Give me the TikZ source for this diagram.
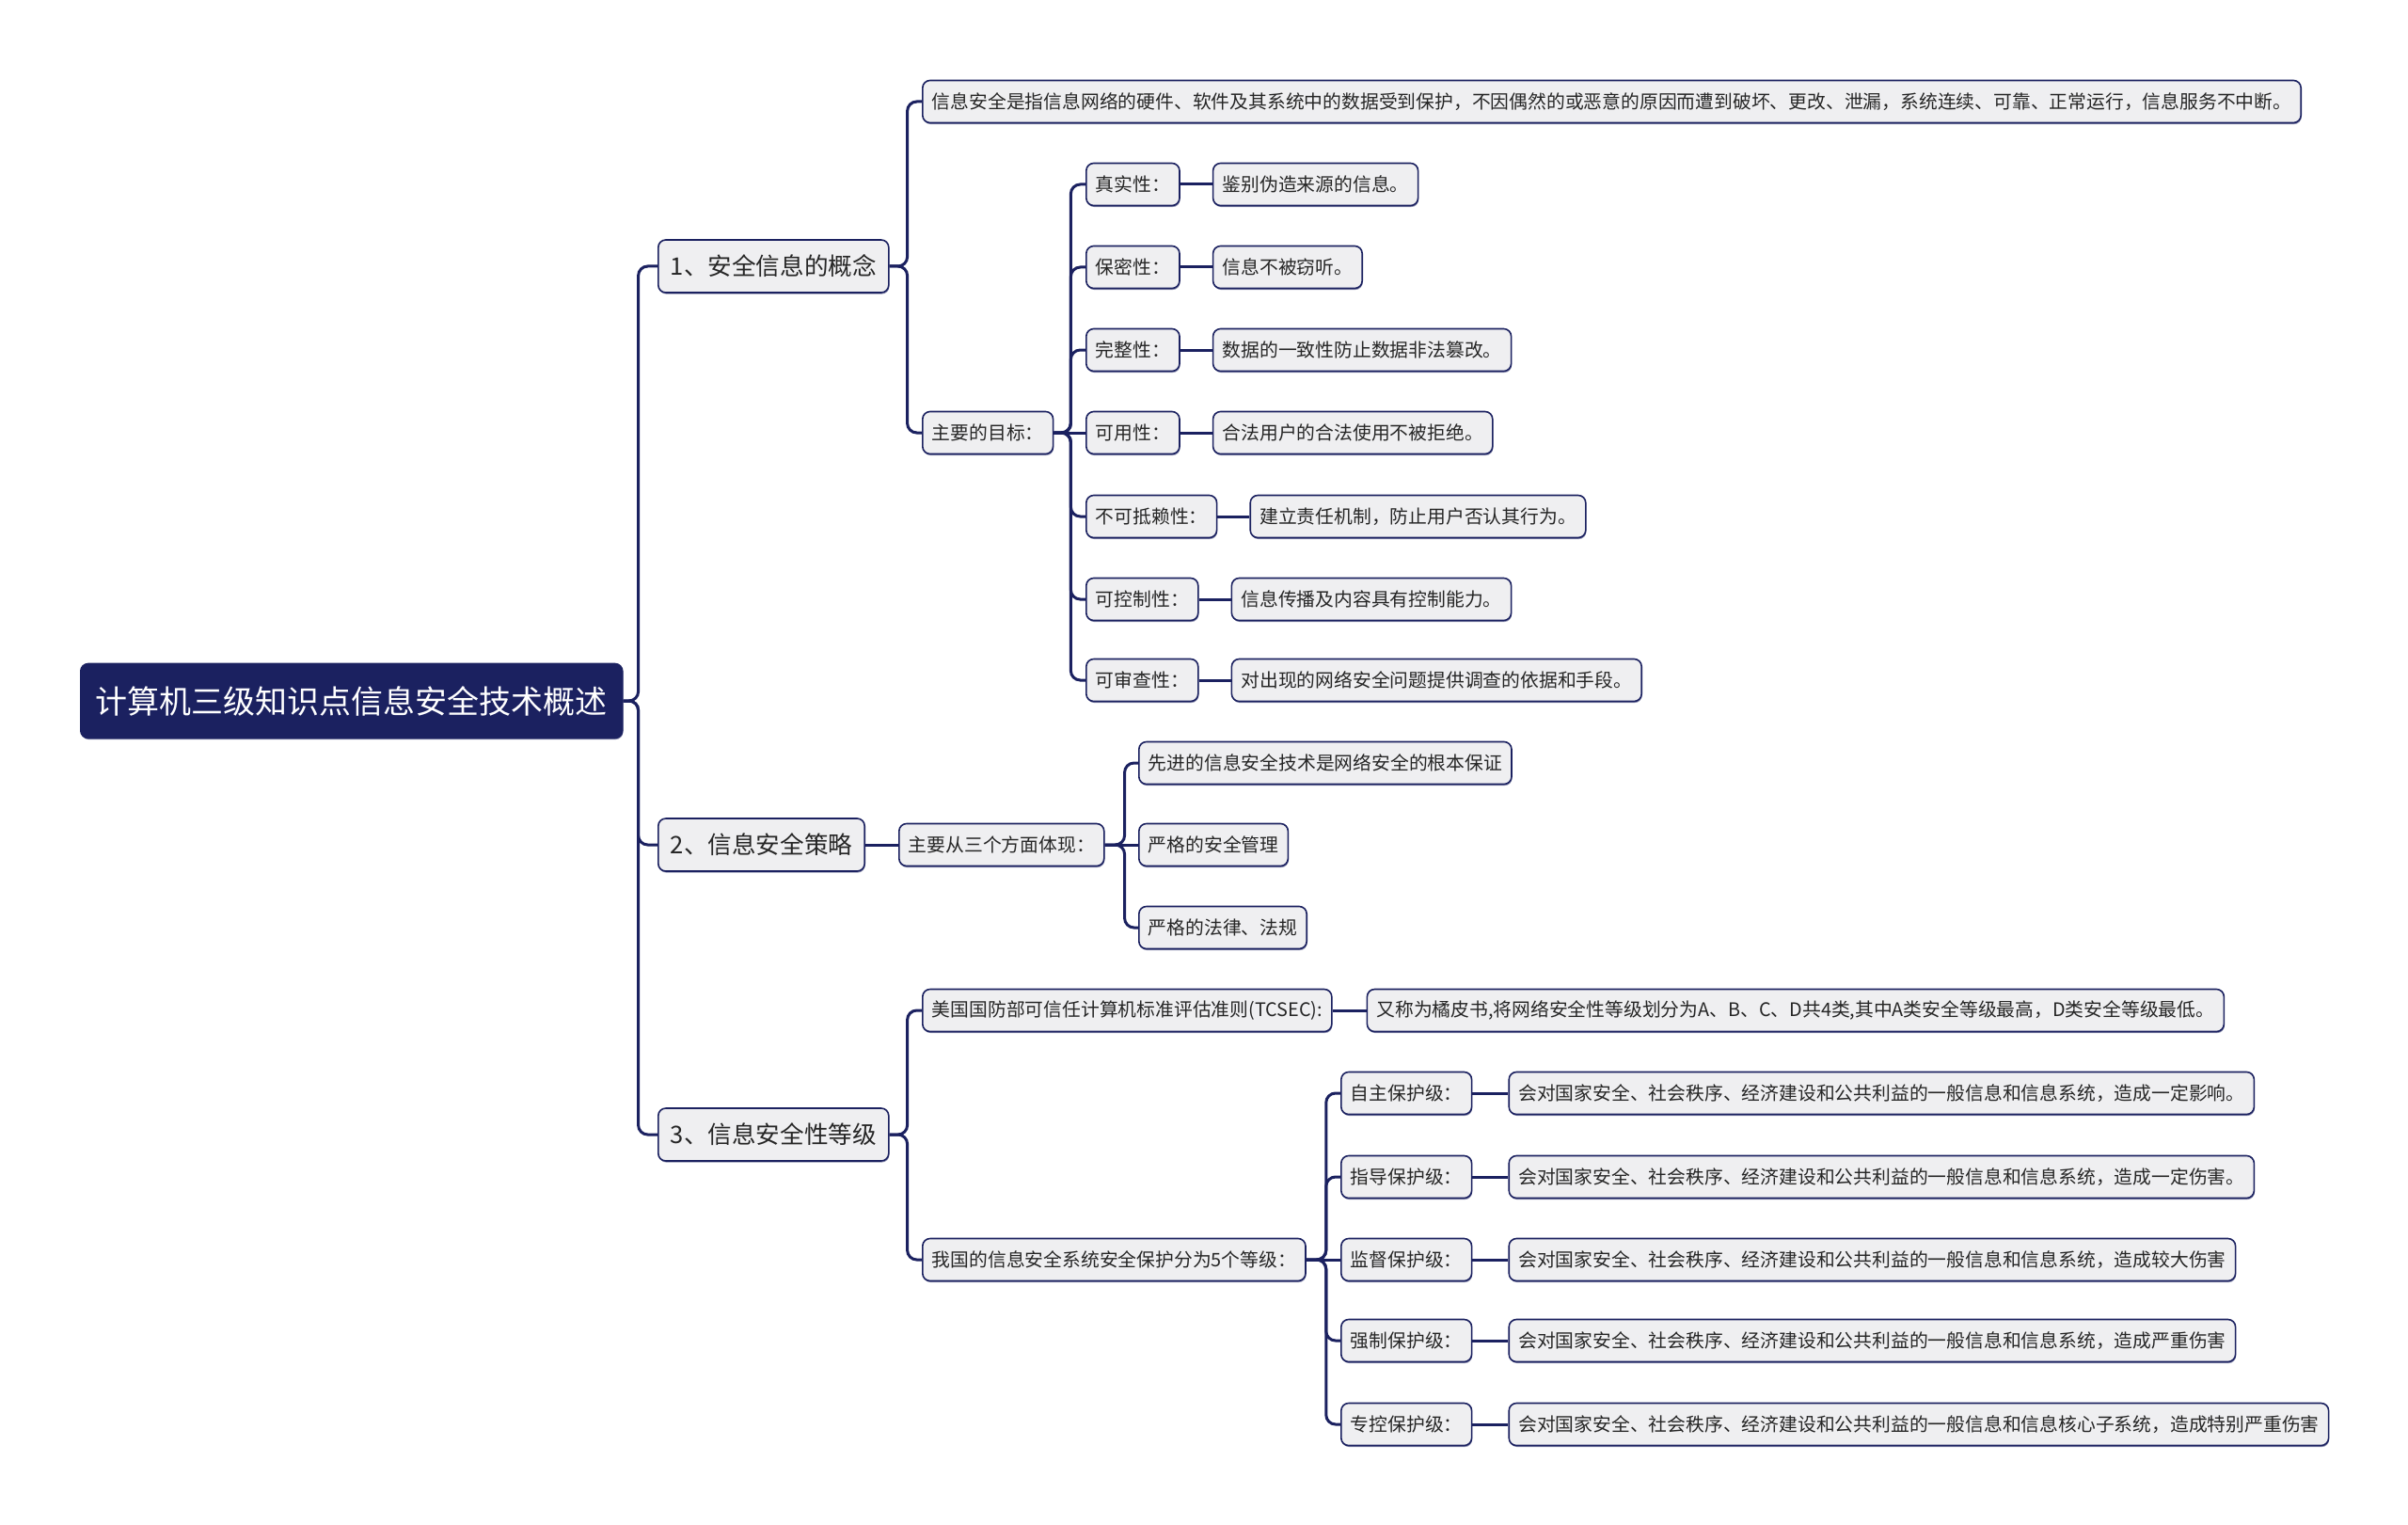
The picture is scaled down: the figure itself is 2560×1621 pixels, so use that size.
\documentclass[tikz,border=0pt]{standalone}
\usepackage{fontspec}
\newfontfamily\cjk{Noto Sans CJK SC}
\usetikzlibrary{positioning,shadows}
\definecolor{navy}{RGB}{27,33,96}
\definecolor{boxgray}{RGB}{239,239,241}
\tikzset{
  base/.style={draw=navy, line width=0.8pt, rounded corners=4pt, fill=boxgray, text=black!85,
    anchor=west, inner ysep=0pt, drop shadow={shadow xshift=0.3pt, shadow yshift=-0.8pt, fill=navy, opacity=0.5}},
  rootbox/.style={base, fill=navy, text=white, font=\cjk\fontsize{17pt}{17pt}\selectfont,
    minimum height=39.5pt, inner xsep=8pt},
  topic/.style={base, font=\cjk\fontsize{12.8pt}{13pt}\selectfont, minimum height=28pt, inner xsep=6.5pt},
  leaf/.style={base, font=\cjk\fontsize{9.9pt}{10pt}\selectfont, minimum height=22.5pt, inner xsep=5pt},
  conn/.style={draw=navy, line width=1.5pt, rounded corners=5pt},
}
\begin{document}
\begin{tikzpicture}[x=0.5pt,y=-0.5pt]
  \useasboundingbox (0,0) rectangle (2560,1621);
  % root and main branches
  \node[rootbox] (root) at (85,745) {计算机三级知识点信息安全技术概述};
  \node[topic] (c1) at (699,283) {1、安全信息的概念};
  \node[topic] (c2) at (699,898) {2、信息安全策略};
  \node[topic] (c3) at (699,1206) {3、信息安全性等级};
  \draw[conn] (root.east) -- ++(16,0) |- (c1.west);
  \draw[conn] (root.east) -- ++(16,0) |- (c2.west);
  \draw[conn] (root.east) -- ++(16,0) |- (c3.west);

  % 1
  \node[leaf] (def) at (980,108) {信息安全是指信息网络的硬件、软件及其系统中的数据受到保护，不因偶然的或恶意的原因而遭到破坏、更改、泄漏，系统连续、可靠、正常运行，信息服务不中断。};
  \node[leaf] (goal) at (980,460) {主要的目标：};
  \draw[conn] (c1.east) -- ++(19,0) |- (def.west);
  \draw[conn] (c1.east) -- ++(19,0) |- (goal.west);

  \node[leaf] (k1) at (1154,196) {真实性：};
  \node[leaf] (k2) at (1154,284) {保密性：};
  \node[leaf] (k3) at (1154,372) {完整性：};
  \node[leaf] (k4) at (1154,460) {可用性：};
  \node[leaf] (k5) at (1154,549) {不可抵赖性：};
  \node[leaf] (k6) at (1154,637) {可控制性：};
  \node[leaf] (k7) at (1154,723) {可审查性：};
  \node[leaf, right=17pt of k1] (v1) {鉴别伪造来源的信息。};
  \node[leaf, right=17pt of k2] (v2) {信息不被窃听。};
  \node[leaf, right=17pt of k3] (v3) {数据的一致性防止数据非法篡改。};
  \node[leaf, right=17pt of k4] (v4) {合法用户的合法使用不被拒绝。};
  \node[leaf, right=17pt of k5] (v5) {建立责任机制，防止用户否认其行为。};
  \node[leaf, right=17pt of k6] (v6) {信息传播及内容具有控制能力。};
  \node[leaf, right=17pt of k7] (v7) {对出现的网络安全问题提供调查的依据和手段。};
  \foreach \i in {1,2,3,5,6,7}
    \draw[conn] (goal.east) -- ++(18,0) |- (k\i.west);
  \draw[conn] (goal.east) -- (k4.west);
  \foreach \i in {1,...,7}
    \draw[conn] (k\i.east) -- (v\i.west);

  % 2
  \node[leaf] (ways) at (955,898) {主要从三个方面体现：};
  \draw[conn] (c2.east) -- (ways.west);
  \node[leaf] (t1) at (1210,811) {先进的信息安全技术是网络安全的根本保证};
  \node[leaf] (t2) at (1210,898) {严格的安全管理};
  \node[leaf] (t3) at (1210,986) {严格的法律、法规};
  \draw[conn] (ways.east) -- ++(21,0) |- (t1.west);
  \draw[conn] (ways.east) -- (t2.west);
  \draw[conn] (ways.east) -- ++(21,0) |- (t3.west);

  % 3
  \node[leaf] (us) at (980,1074) {美国国防部可信任计算机标准评估准则(TCSEC):};
  \node[leaf, right=18pt of us] (orange) {又称为橘皮书,将网络安全性等级划分为A、B、C、D共4类,其中A类安全等级最高，D类安全等级最低。};
  \node[leaf] (cn) at (980,1339) {我国的信息安全系统安全保护分为5个等级：};
  \draw[conn] (c3.east) -- ++(19,0) |- (us.west);
  \draw[conn] (c3.east) -- ++(19,0) |- (cn.west);
  \draw[conn] (us.east) -- (orange.west);

  \node[leaf] (p1) at (1425,1162) {自主保护级：};
  \node[leaf] (p2) at (1425,1251) {指导保护级：};
  \node[leaf] (p3) at (1425,1339) {监督保护级：};
  \node[leaf] (p4) at (1425,1425) {强制保护级：};
  \node[leaf] (p5) at (1425,1514) {专控保护级：};
  \node[leaf, right=19pt of p1] (q1) {会对国家安全、社会秩序、经济建设和公共利益的一般信息和信息系统，造成一定影响。};
  \node[leaf, right=19pt of p2] (q2) {会对国家安全、社会秩序、经济建设和公共利益的一般信息和信息系统，造成一定伤害。};
  \node[leaf, right=19pt of p3] (q3) {会对国家安全、社会秩序、经济建设和公共利益的一般信息和信息系统，造成较大伤害};
  \node[leaf, right=19pt of p4] (q4) {会对国家安全、社会秩序、经济建设和公共利益的一般信息和信息系统，造成严重伤害};
  \node[leaf, right=19pt of p5] (q5) {会对国家安全、社会秩序、经济建设和公共利益的一般信息和信息核心子系统，造成特别严重伤害};
  \foreach \i in {1,2,4,5}
    \draw[conn] (cn.east) -- ++(21,0) |- (p\i.west);
  \draw[conn] (cn.east) -- (p3.west);
  \foreach \i in {1,...,5}
    \draw[conn] (p\i.east) -- (q\i.west);
\end{tikzpicture}
\end{document}
